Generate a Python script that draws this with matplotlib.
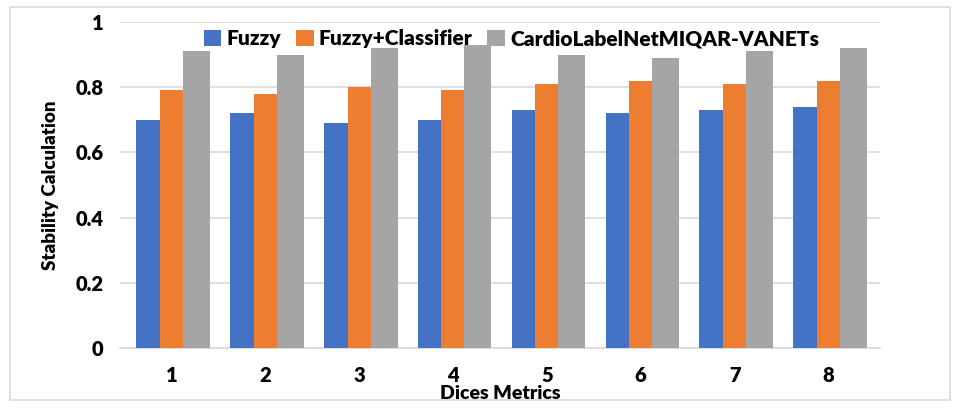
import matplotlib
matplotlib.use("Agg")
import matplotlib.pyplot as plt
import numpy as np
from matplotlib.patches import Rectangle

categories = ["1", "2", "3", "4", "5", "6", "7", "8"]
series_names = ["Fuzzy", "Fuzzy+Classifier", "CardioLabelNetMIQAR-VANETs"]
fuzzy = [0.70, 0.72, 0.69, 0.70, 0.73, 0.72, 0.73, 0.74]
fuzzy_classifier = [0.79, 0.78, 0.80, 0.79, 0.81, 0.82, 0.81, 0.82]
cardio = [0.91, 0.90, 0.92, 0.93, 0.90, 0.89, 0.91, 0.92]
yticks = [0, 0.2, 0.4, 0.6, 0.8, 1]
ytick_labels = ["0", "0.2", "0.4", "0.6", "0.8", "1"]

colors = ["#4472C4", "#ED7D31", "#A5A5A5"]

plt.rcParams["font.family"] = ["Lato", "DejaVu Sans"]

fig = plt.figure(figsize=(9.57, 4.09), dpi=100)
ax = fig.add_axes([120 / 957, 1 - 348 / 409, 760 / 957, 326 / 409])

x = np.arange(len(categories))
w = 0.25
for i, (vals, name) in enumerate(zip([fuzzy, fuzzy_classifier, cardio], series_names)):
    ax.bar(x + (i - 1) * w + (0.015 if i == 2 else 0), vals,
           width=w if i < 2 else w * 1.15,
           color=colors[i], label=name, zorder=3)

ax.set_ylim(0, 1)
ax.set_xlim(-0.55, len(categories) - 0.45)
ax.set_yticks(yticks)
ax.set_yticklabels(ytick_labels, fontsize=14.5, fontweight="heavy")
ax.set_xticks(x)
ax.set_xticklabels(categories, fontsize=14.5, fontweight="heavy")
ax.tick_params(length=0, pad=12)
ax.tick_params(axis="x", pad=13)
ax.grid(axis="y", color="#D9D9D9", linewidth=1.2, zorder=0)
for s in ["top", "right", "left"]:
    ax.spines[s].set_visible(False)
ax.spines["bottom"].set_color("#D9D9D9")
ax.spines["bottom"].set_linewidth(1.2)

ax.set_ylabel("Stability Calculation", fontsize=13.5, fontweight="heavy", labelpad=12)
ax.set_xlabel("Dices Metrics", fontsize=14, fontweight="heavy", labelpad=0)

leg = ax.legend(loc="upper center", bbox_to_anchor=(0.515, 1.035), ncol=3, frameon=False,
                prop={"size": 15, "weight": "heavy"}, handlelength=0.85, handleheight=0.85,
                columnspacing=0.7, handletextpad=0.25)

# outer frame
fig.patches.append(Rectangle((10 / 957, 1 - 400 / 409), 940 / 957, 393 / 409,
                             transform=fig.transFigure, fill=False,
                             edgecolor="#D9D9D9", linewidth=1.2))

fig.savefig("out.png", dpi=100)
